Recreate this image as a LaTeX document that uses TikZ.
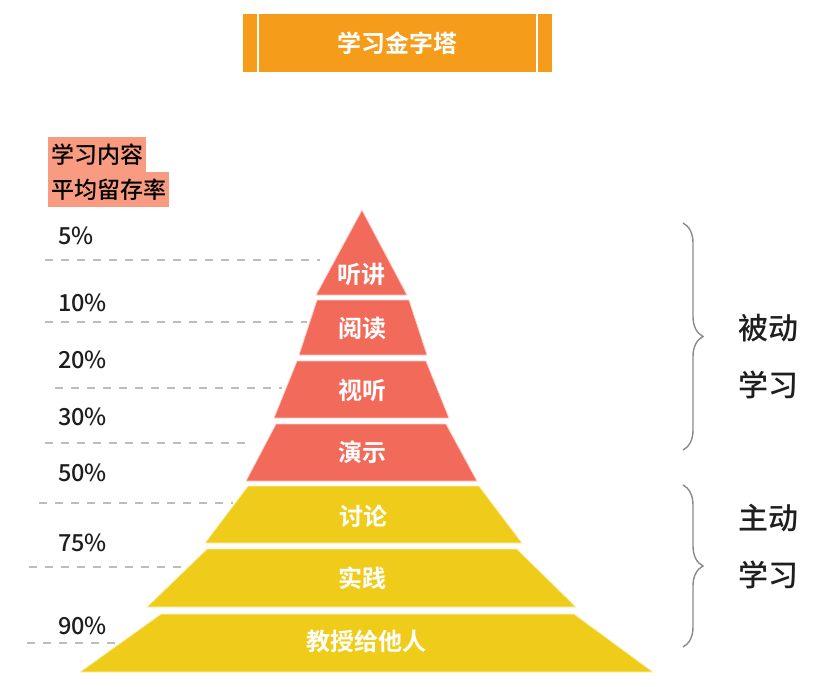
\documentclass[tikz,border=0pt]{standalone}
\usepackage{fontspec}
\setmainfont{Noto Sans CJK SC}[BoldFont={Noto Sans CJK SC Bold}]
\newfontfamily\medfont{Noto Sans CJK SC Medium}
\usetikzlibrary{positioning, decorations.pathreplacing}
\definecolor{titleorange}{HTML}{F59C1B}
\definecolor{passred}{HTML}{F26A5A}
\definecolor{actyellow}{HTML}{F0CC1A}
\definecolor{salmon}{HTML}{F89B80}
\definecolor{guidegray}{HTML}{BBBBC0}
\definecolor{bracegray}{HTML}{8A8A8A}
\definecolor{inkdark}{HTML}{1E1E1E}
\tikzset{x=1pt, y=-1pt, % one unit = one pixel of the reference
every node/.style={inner sep=0pt, outer sep=0pt},
passlayer/.style={ % Upper (passive) layers
fill=passred, draw=passred!30, line width=0.8pt},
actlayer/.style={ % Lower (active) layers
fill=actyellow, draw=actyellow!30, line width=0.8pt},
layertext/.style={text=white, font=\bfseries\fontsize{24}{28}\selectfont},
rate/.style={anchor=west, text=inkdark, font=\medfont\fontsize{23.5}{27}\selectfont},
guide/.style={draw=guidegray, line width=1.6pt, dash pattern=on 8pt off 8pt},
bracket/.style={draw=bracegray, line width=1.4pt,
decorate, decoration={brace, amplitude=20pt}},
sidetext/.style={align=center, text=inkdark, font=\medfont\fontsize{30}{57}\selectfont},
tag/.style={fill=salmon, anchor=north west, inner xsep=3pt,
text=black, font=\medfont\fontsize{23}{26}\selectfont}}

\begin{document}
\begin{tikzpicture}
    \useasboundingbox (0,0) rectangle (817,686);

    % title bar
    \fill[titleorange] (243,14) rectangle (552,72);
    \draw[white, line width=1.5pt] (258,14) -- (258,72);
    \draw[white, line width=1.5pt] (537,14) -- (537,72);
    \node[text=white, font=\bfseries\fontsize{24}{28}\selectfont] (title) at (397,43) {学习金字塔};

    % left legend
    \node[tag, minimum height=36pt] (tagA) at (48,137) {学习内容};
    \node[tag, minimum height=35pt] (tagB) at (48,172) {平均留存率};

    % rates and guide lines
    \node[rate] (r5) at (58,236) {5\%};
    \node[rate] (r10) at (58,303) {10\%};
    \node[rate] (r20) at (58,360) {20\%};
    \node[rate] (r30) at (58,417) {30\%};
    \node[rate] (r50) at (58,473) {50\%};
    \node[rate] (r75) at (58,543) {75\%};
    \node[rate] (r90) at (58,626) {90\%};
    \draw[guide] (45,260) -- (320,260);
    \draw[guide] (45,322) -- (307,322);
    \draw[guide] (55,388) -- (282,388);
    \draw[guide] (45,443) -- (253,443);
    \draw[guide] (39,503) -- (233,503);
    \draw[guide] (29,567) -- (187,567);
    \draw[guide] (27,643) -- (118,643);

    % pyramid
    \path[passlayer] (362,210) -- (407,295) -- (316,295) -- cycle;
    \path[passlayer] (317,300) -- (409,300) -- (427,355) -- (299,355) -- cycle;
    \path[passlayer] (297,361) -- (426,361) -- (449,418) -- (274,418) -- cycle;
    \path[passlayer] (276,424) -- (446,424) -- (477,481) -- (246,481) -- cycle;
    \path[actlayer] (248,486) -- (479,486) -- (522,543) -- (205,543) -- cycle;
    \path[actlayer] (207,549) -- (517,549) -- (576,607) -- (147,607) -- cycle;
    \path[actlayer] (161,614) -- (574,614) -- (653,672) -- (80,672) -- cycle;

    \node[layertext] (listen) at (361,274) {听讲};
    \node[layertext] (read) at (362,328) {阅读};
    \node[layertext] (av) at (362,390) {视听};
    \node[layertext] (demo) at (362,452) {演示};
    \node[layertext] (discuss) at (363,516) {讨论};
    \node[layertext] (practice) at (362,578) {实践};
    \node[layertext] (teach) at (366,641) {教授给他人};

    % braces
    \coordinate (passTop) at (683,223);
    \coordinate (passBot) at (683,450);
    \coordinate (actTop) at (683,485);
    \coordinate (actBot) at (683,647);
    \draw[bracket] (passTop) -- (passBot);
    \draw[bracket] (actTop) -- (actBot);
    \node[sidetext] (passive) at (768,357) {被动\\学习};
    \node[sidetext] (active) at (768,547) {主动\\学习};

\end{tikzpicture}
\end{document}
